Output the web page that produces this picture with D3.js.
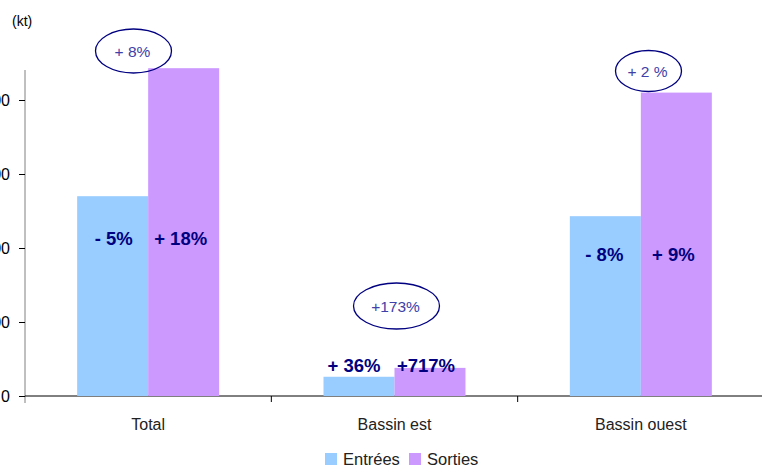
<!DOCTYPE html>
<html>
<head>
<meta charset="utf-8">
<script src="https://cdn.jsdelivr.net/npm/d3@7"></script>
<style>
  body { margin: 0; background: #fff; }
  svg { font-family: "Liberation Sans", Arial, sans-serif; display: block; }
</style>
</head>
<body>
<div id="chart"></div>
<script>
// chart data
var categories = ["Total", "Bassin est", "Bassin ouest"];
var series = ["Entrées", "Sorties"];
var entrees = [270, 26, 243];
var sorties = [443, 38, 410];
var entreesLabels = ["- 5%", "+ 36%", "- 8%"];
var sortiesLabels = ["+ 18%", "+717%", "+ 9%"];
var totalChange = ["+ 8%", "+173%", "+ 2 %"];
var yTicks = [0, 100, 200, 300, 400];

var width = 762, height = 467;
var colors = { "Entrées": "#99ccff", "Sorties": "#cc99ff" };

var svg = d3.select("#chart").append("svg")
  .attr("width", width)
  .attr("height", height);

var x0 = d3.scaleBand().domain(categories).range([25, 764]);
var x1 = d3.scaleBand().domain(series).range([0, x0.bandwidth()]).paddingInner(0).paddingOuter(0.735);
var y = d3.scaleLinear().domain([0, 440]).range([396, 70.4]);

// y axis
var yAxis = svg.append("g")
  .attr("transform", "translate(25,0)")
  .call(d3.axisLeft(y).tickValues(yTicks).tickSize(6).tickSizeOuter(0));
yAxis.select(".domain").attr("stroke", "#808080").attr("d", "M0,70V403");
yAxis.selectAll(".tick line").attr("stroke", "#000");
yAxis.selectAll(".tick text").attr("x", -15).attr("font-size", 16).attr("fill", "#000")
  .attr("font-family", "Liberation Sans, Arial, sans-serif");

// x axis
var xAxis = svg.append("g")
  .attr("transform", "translate(0,396)");
xAxis.append("line").attr("x1", 25).attr("x2", 762).attr("stroke", "#000");
xAxis.selectAll(".sep")
  .data(categories.slice(1))
  .enter().append("line")
  .attr("x1", function (d) { return x0(d); })
  .attr("x2", function (d) { return x0(d); })
  .attr("y1", 0).attr("y2", 6)
  .attr("stroke", "#000");
xAxis.selectAll(".cat")
  .data(categories)
  .enter().append("text")
  .attr("x", function (d) { return x0(d) + x0.bandwidth() / 2; })
  .attr("y", 34)
  .attr("text-anchor", "middle")
  .attr("font-size", 16)
  .attr("fill", "#222")
  .text(function (d) { return d; });

// bars
var rows = categories.map(function (c, i) {
  return { cat: c, vals: [
    { s: "Entrées", v: entrees[i], lab: entreesLabels[i] },
    { s: "Sorties", v: sorties[i], lab: sortiesLabels[i] }
  ] };
});

var groups = svg.selectAll(".grp")
  .data(rows)
  .enter().append("g")
  .attr("transform", function (d) { return "translate(" + x0(d.cat) + ",0)"; });

groups.selectAll("rect")
  .data(function (d) { return d.vals; })
  .enter().append("rect")
  .attr("x", function (d) { return x1(d.s); })
  .attr("width", x1.bandwidth())
  .attr("y", function (d) { return y(d.v); })
  .attr("height", function (d) { return y(0) - y(d.v); })
  .attr("fill", function (d) { return colors[d.s]; });

// percentage labels on the bars
var labelY = [245, 372, 261];
var labelShift = [[1, -3], [-5, -4], [-1, -3]];
groups.each(function (d, i) {
  d3.select(this).selectAll(".pct")
    .data(d.vals)
    .enter().append("text")
    .attr("x", function (e, j) { return x1(e.s) + x1.bandwidth() / 2 + labelShift[i][j]; })
    .attr("y", labelY[i])
    .attr("text-anchor", "middle")
    .attr("font-size", 18.5)
    .attr("font-weight", "bold")
    .attr("fill", "#000080")
    .text(function (e) { return e.lab; });
});

// circled total change
var ellipses = [
  { cx: 133.5, cy: 51, rx: 38, ry: 22 },
  { cx: 396.5, cy: 306, rx: 43, ry: 23 },
  { cx: 648.5, cy: 71, rx: 33, ry: 20.5 }
];
ellipses.forEach(function (e, i) {
  svg.append("ellipse")
    .attr("cx", e.cx).attr("cy", e.cy).attr("rx", e.rx).attr("ry", e.ry)
    .attr("fill", "none").attr("stroke", "#000080").attr("stroke-width", 1.3);
  svg.append("text")
    .attr("x", e.cx - 1).attr("y", e.cy + 6)
    .attr("text-anchor", "middle")
    .attr("font-size", 15.5)
    .attr("fill", "#4040a8")
    .text(totalChange[i]);
});

// unit
svg.append("text")
  .attr("x", 12).attr("y", 26)
  .attr("font-size", 14)
  .attr("fill", "#000")
  .text("(kt)");

// legend
var legend = svg.append("g").attr("transform", "translate(325,453)");
var legX = [0, 84];
series.forEach(function (s, i) {
  legend.append("rect").attr("x", legX[i]).attr("y", 0).attr("width", 12).attr("height", 12)
    .attr("fill", colors[s]);
  legend.append("text").attr("x", legX[i] + 18).attr("y", 12)
    .attr("font-size", 16.5).attr("fill", "#222").text(s);
});
</script>
</body>
</html>
